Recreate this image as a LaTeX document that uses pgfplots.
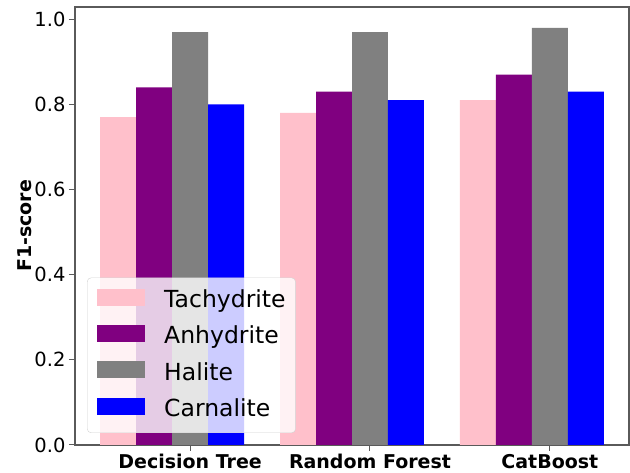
\documentclass[border=0pt]{standalone}
\usepackage{fontspec}
\setmainfont{DejaVu Sans}
\usepackage{pgfplots}
\usepackage{pgfplotstable}
\pgfplotsset{compat=1.18}

\definecolor{mplpink}{HTML}{FFC0CB}
\definecolor{mplpurple}{HTML}{800080}
\definecolor{mplgray}{HTML}{808080}
\definecolor{mplblue}{HTML}{0000FF}
\definecolor{spine}{HTML}{5A5A5A}

% F1-scores per model (rows) and mineral class (columns)
\pgfplotstableread{
x Tachydrite Anhydrite Halite Carnalite
0 0.77 0.84 0.97 0.80
1 0.78 0.83 0.97 0.81
2 0.81 0.87 0.98 0.83
}\scores

\begin{document}
\begin{tikzpicture}
\begin{axis}[
  at={(0pt,0pt)}, anchor=south west,
  width=554pt, height=438pt, scale only axis,
  xmin=-0.64, xmax=2.44, ymin=0, ymax=1.029,
  ybar, bar width=0.2,
  xtick={0,1,2},
  xticklabels={Decision Tree,Random Forest,CatBoost},
  ytick={0,0.2,0.4,0.6,0.8,1.0},
  /pgf/number format/fixed,
  /pgf/number format/fixed zerofill,
  /pgf/number format/precision=1,
  /pgf/number format/assume math mode=true,
  tick pos=left, tick align=outside,
  major tick length=6pt,
  tick style={spine, line width=1pt},
  axis line style={spine, line width=1.1pt},
  xticklabel style={font=\bfseries\fontsize{19}{23}\selectfont, text=black},
  yticklabel style={font=\fontsize{19.5}{23}\selectfont, text=black},
  ylabel={F1-score},
  ylabel style={font=\bfseries\fontsize{19}{23}\selectfont,
    at={(axis description cs:-0.0903,0.5)}, anchor=center},
  % solid swatch, centred on the entry text
  legend image code/.code={\path[#1,draw=none,fill opacity=1,sharp corners] (0pt,-4pt) rectangle (48pt,13pt);},
  legend cell align=left,
  legend style={
    at={(rel axis cs:0.0217,0.0274)}, anchor=south west,
    fill=white, fill opacity=0.8, text opacity=1,
    draw=black!18, rounded corners=4pt,
    font=\fontsize{23.5}{27}\selectfont,
    inner xsep=10pt, inner ysep=11pt,
    nodes={inner sep=0pt, text height=17pt, text depth=5.5pt},
    row sep=12pt,
    /tikz/every odd column/.append style={column sep=19pt},
  },
]
\addplot[fill=mplpink, draw=none, bar shift=-0.4] table[x=x, y=Tachydrite]{\scores};
\addplot[fill=mplpurple, draw=none, bar shift=-0.2] table[x=x, y=Anhydrite]{\scores};
\addplot[fill=mplgray, draw=none, bar shift=0] table[x=x, y=Halite]{\scores};
\addplot[fill=mplblue, draw=none, bar shift=0.2] table[x=x, y=Carnalite]{\scores};
\legend{Tachydrite, Anhydrite, Halite, Carnalite}
\end{axis}
\pgfresetboundingbox
\path[use as bounding box] (-75pt,-28pt) rectangle (555pt,445pt);
\end{tikzpicture}
\end{document}
